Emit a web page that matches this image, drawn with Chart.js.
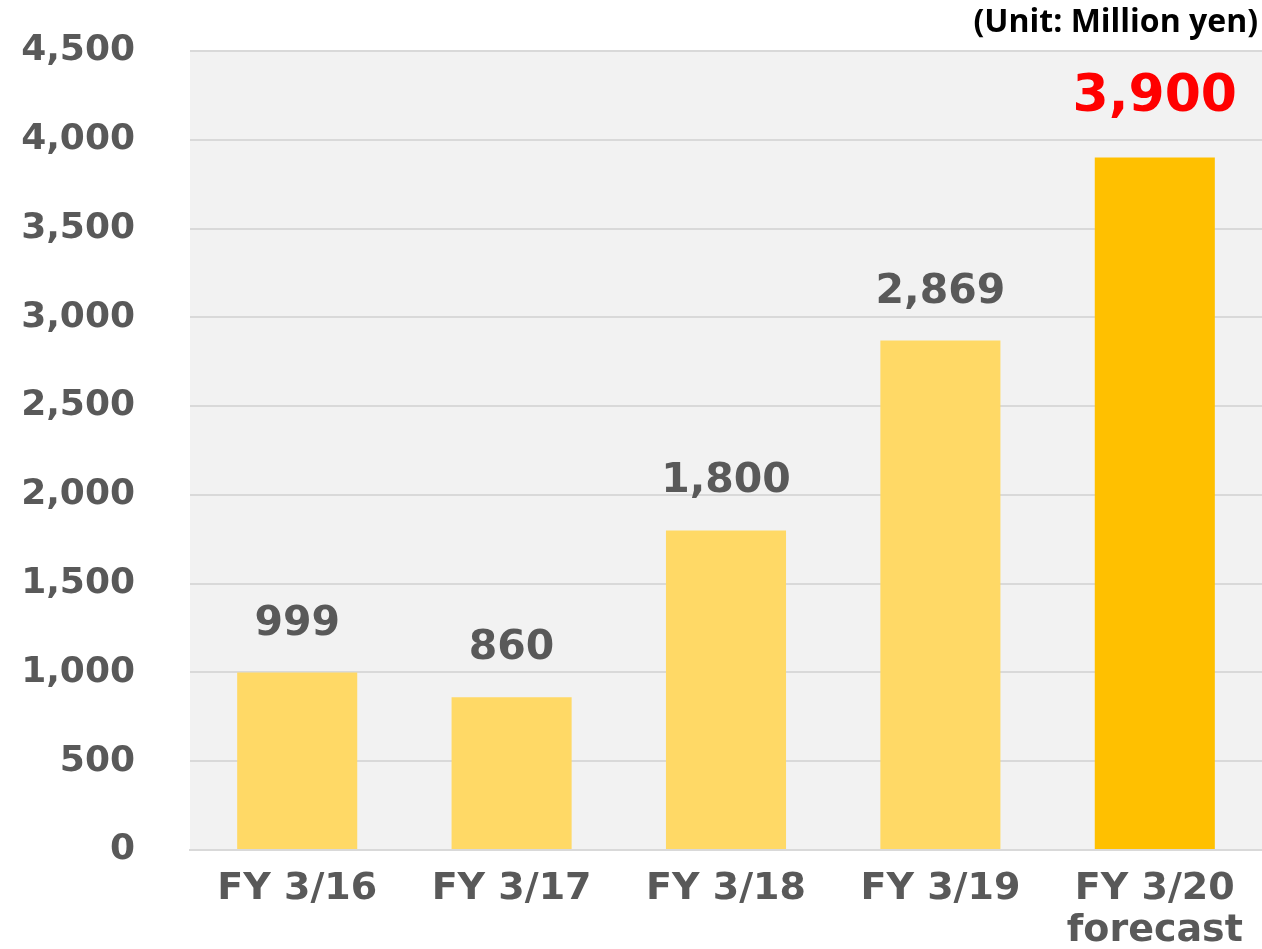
<!DOCTYPE html>
<html>
<head>
<meta charset="utf-8">
<script src="https://cdn.jsdelivr.net/npm/chart.js@4.4.0/dist/chart.umd.min.js"></script>
<style>
    html, body { margin: 0; padding: 0; background: #ffffff; }
    #wrap { width: 1262px; height: 949px; position: relative; }
</style>
</head>
<body>
<div id="wrap"><canvas id="profitChart"></canvas></div>
<script>
// values
const categories = [["FY 3/16"], ["FY 3/17"], ["FY 3/18"], ["FY 3/19"], ["FY 3/20", "forecast"]];
const values = [999, 860, 1800, 2869, 3900];
const barColors = ["#FFD966", "#FFD966", "#FFD966", "#FFD966", "#FFC000"];
const labelColors = ["#595959", "#595959", "#595959", "#595959", "#FF0000"];
const yTicks = [0, 500, 1000, 1500, 2000, 2500, 3000, 3500, 4000, 4500];
const unitText = "(Unit: Million yen)";

const fontFamily = "'DejaVu Sans', Verdana, sans-serif";

// gray plot background + unit caption
const backgroundPlugin = {
    id: 'plotBackground',
    beforeDraw(chart) {
        const {ctx, chartArea} = chart;
        ctx.save();
        ctx.fillStyle = "#F2F2F2";
        ctx.fillRect(chartArea.left, chartArea.top, chartArea.right - chartArea.left, chartArea.bottom - chartArea.top);
        ctx.restore();
    },
    afterDraw(chart) {
        const {ctx} = chart;
        ctx.save();
        ctx.font = "bold 32px 'Open Sans', sans-serif";
        ctx.fillStyle = "#000000";
        ctx.textAlign = "right";
        ctx.textBaseline = "alphabetic";
        ctx.fillText(unitText, 1258, 32);
        ctx.restore();
    }
};

// value labels above each bar
const valueLabelPlugin = {
    id: 'valueLabels',
    afterDatasetsDraw(chart) {
        const {ctx} = chart;
        const meta = chart.getDatasetMeta(0);
        ctx.save();
        ctx.textAlign = "center";
        ctx.textBaseline = "alphabetic";
        meta.data.forEach((bar, i) => {
            const last = i === values.length - 1;
            ctx.font = (last ? "bold 52px " : "bold 41px ") + fontFamily;
            ctx.fillStyle = labelColors[i];
            ctx.fillText(values[i].toLocaleString('en-US'), bar.x, bar.y - (last ? 47 : 38));
        });
        ctx.restore();
    }
};

new Chart(document.getElementById("profitChart"), {
    type: 'bar',
    data: {
        labels: categories,
        datasets: [{
            data: values,
            backgroundColor: barColors,
            borderWidth: 0,
            categoryPercentage: 0.8,
            barPercentage: 0.7
        }]
    },
    options: {
        responsive: true,
        maintainAspectRatio: false,
        animation: false,
        layout: {padding: {top: 51, right: 0, left: 0, bottom: 0}},
        plugins: {
            legend: {display: false},
            title: {display: false},
            tooltip: {enabled: false}
        },
        scales: {
            x: {
                grid: {display: false, drawTicks: false},
                border: {color: "#D9D9D9", width: 2},
                ticks: {
                    color: "#595959",
                    font: {family: fontFamily, size: 38, weight: 'bold', lineHeight: 1.1},
                    padding: 18,
                    maxRotation: 0
                },
                afterFit(scale) {
                    scale.height = 99;
                    scale.paddingLeft = 0;
                    scale.paddingRight = 0;
                }
            },
            y: {
                min: 0,
                max: 4500,
                afterBuildTicks(scale) { scale.ticks = yTicks.map(v => ({value: v})); },
                grid: {color: "#D9D9D9", lineWidth: 2, drawTicks: false},
                border: {display: false},
                ticks: {
                    color: "#595959",
                    font: {family: fontFamily, size: 36, weight: 'bold'},
                    padding: 55,
                    callback: v => v.toLocaleString('en-US')
                },
                afterFit(scale) {
                    scale.width = 190;
                    scale.paddingTop = 0;
                    scale.paddingBottom = 0;
                }
            }
        }
    },
    plugins: [backgroundPlugin, valueLabelPlugin]
});
</script>
</body>
</html>
